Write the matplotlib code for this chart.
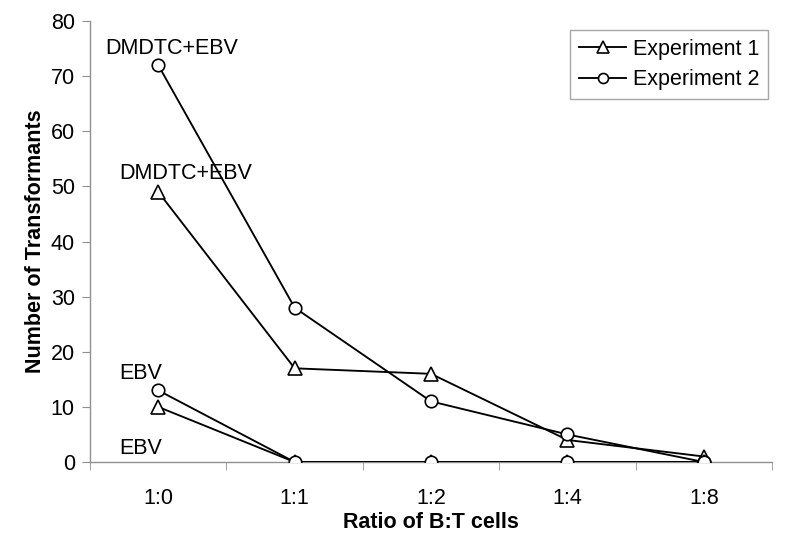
import matplotlib
matplotlib.use("Agg")
import matplotlib.pyplot as plt
from matplotlib.ticker import FixedLocator

plt.rcParams['font.family'] = ['Liberation Sans', 'DejaVu Sans']

categories = ["1:0", "1:1", "1:2", "1:4", "1:8"]
exp1_dmdtc = [49, 17, 16, 4, 1]
exp2_dmdtc = [72, 28, 11, 5, 0]
exp1_ebv = [10, 0, 0, 0, 0]
exp2_ebv = [13, 0, 0, 0, 0]

x = list(range(len(categories)))

fig = plt.figure(figsize=(7.87, 5.46), dpi=100)
ax = fig.add_axes([0.1144, 0.1538, 0.8666, 0.8077])

tri = dict(color='black', lw=1.35, marker='^', markersize=10.5,
           markerfacecolor='white', markeredgecolor='black', markeredgewidth=1.2)
cir = dict(color='black', lw=1.35, marker='o', markersize=9,
           markerfacecolor='white', markeredgecolor='black', markeredgewidth=1.2)

l1, = ax.plot(x, exp1_dmdtc, zorder=3, **tri)
ax.plot(x, exp1_ebv, zorder=3, **tri)
l2, = ax.plot(x, exp2_dmdtc, zorder=4, **cir)
ax.plot(x, exp2_ebv, zorder=4, **cir)

ax.set_xlim(-0.5, len(categories) - 0.5)
ax.set_ylim(0, 80)
ax.set_yticks(range(0, 81, 10))
ax.set_xticks(x)
ax.set_xticklabels(categories)
ax.xaxis.set_minor_locator(FixedLocator([i - 0.5 for i in range(len(categories) + 1)]))
ax.tick_params(axis='x', which='major', length=0, pad=19, labelsize=15.5)
ax.tick_params(axis='x', which='minor', length=6, color='#909090', direction='out')
ax.tick_params(axis='y', length=6, color='#909090', labelsize=15.5, pad=5)

for s in ['top', 'right']:
    ax.spines[s].set_visible(False)
for s in ['left', 'bottom']:
    ax.spines[s].set_color('#909090')
    ax.spines[s].set_linewidth(1.0)

ax.set_xlabel("Ratio of B:T cells", fontsize=15.5, fontweight='bold', labelpad=2)
ax.set_ylabel("Number of Transformants", fontsize=15.5, fontweight='bold', labelpad=3)

ax.text(0.1, 75, "DMDTC+EBV", ha='center', va='center', fontsize=15.5)
ax.text(0.2, 52.4, "DMDTC+EBV", ha='center', va='center', fontsize=15.5)
ax.text(-0.13, 16.1, "EBV", ha='center', va='center', fontsize=15.5)
ax.text(-0.13, 2.5, "EBV", ha='center', va='center', fontsize=15.5)

leg = ax.legend([l1, l2], ["Experiment 1", "Experiment 2"], loc='upper right',
                bbox_to_anchor=(768 / 787, 1 - 30 / 546), bbox_transform=fig.transFigure,
                fontsize=15.5, frameon=True,
                fancybox=False, edgecolor='#909090', handlelength=2.2,
                handletextpad=0.3, borderpad=0.4, labelspacing=0.45,
                markerscale=0.8, borderaxespad=0)
leg.get_frame().set_linewidth(1.0)

fig.savefig("out.png", dpi=100)
